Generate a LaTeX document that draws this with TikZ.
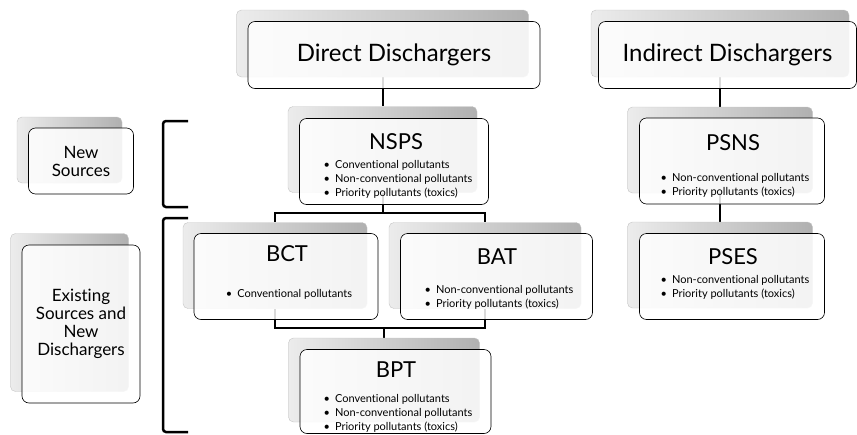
\documentclass[tikz,border=0pt]{standalone}
\usepackage{fontspec}
\setmainfont{Lato}[Ligatures=NoCommon]
\usetikzlibrary{backgrounds}
\definecolor{shadelt}{HTML}{ECECEC}
\definecolor{shadedk}{HTML}{B0B0B0}
\definecolor{rimgray}{HTML}{C4C4C4}
\newcommand{\bitem}[1]{\textbullet\hspace{5pt}#1}

\begin{document}
\begin{tikzpicture}[x=1pt, y=-1pt,
	backbox/.style={rounded corners=5pt, left color=shadelt, right color=shadedk, draw=rimgray, line width=0.4pt, inner sep=0pt},
	frontbox/.style={rounded corners=7pt, draw=black, fill=white, fill opacity=0.85, text opacity=1, line width=0.6pt, inner sep=0pt},
	head/.style={font=\fontsize{22}{26}\selectfont},
	side/.style={font=\fontsize{17}{18}\selectfont, align=center},
	items/.style={font=\fontsize{11}{14}\selectfont, align=left},
	link/.style={line width=2pt},
	brace/.style={line width=2.5pt, rounded corners=3pt}]
	\useasboundingbox (0,0) rectangle (857,434);

	% top row
	\node[backbox, minimum width=292pt, minimum height=67pt] (dd-b) at (382.5,43.5) {};
	\node[frontbox, minimum width=292pt, minimum height=67pt, font=\fontsize{24}{30}\selectfont] (dd) at (394,55) {Direct Dischargers};
	\node[backbox, minimum width=258pt, minimum height=67pt] (id-b) at (720,43.5) {};
	\node[frontbox, minimum width=258pt, minimum height=67pt, font=\fontsize{24}{30}\selectfont] (id) at (727.5,55) {Indirect Dischargers};

	% left labels
	\node[backbox, minimum width=105pt, minimum height=66pt] (ns-b) at (69.5,150) {};
	\node[frontbox, side, minimum width=105pt, minimum height=66pt] (ns) at (81,161) {New\\Sources};
	\node[backbox, minimum width=118pt, minimum height=158pt] (es-b) at (69.5,312.5) {};
	\node[frontbox, side, minimum width=118pt, minimum height=158pt] (es) at (81,324) {Existing\\Sources and\\New\\Dischargers};

	\draw[brace] (188,121) -- (163,121) -- (163,207) -- (188,207);
	\draw[brace] (188,218) -- (163,218) -- (163,432) -- (188,432);

	% direct dischargers
	\node[backbox, minimum width=189pt, minimum height=86pt] (nsps-b) at (382.5,149.5) {};
	\node[frontbox, minimum width=189pt, minimum height=86pt] (nsps) at (394,161.5) {};
	\node[head] (nsps-t) at (396,142) {NSPS};
	\node[items] (nsps-l) at (398,179) {\bitem{Conventional pollutants}\\\bitem{Non-conventional pollutants}\\\bitem{Priority pollutants (toxics)}};

	\node[backbox, minimum width=184pt, minimum height=86pt] (bct-b) at (275,265.5) {};
	\node[frontbox, minimum width=184pt, minimum height=86pt] (bct) at (286,276.5) {};
	\node[head] (bct-t) at (287,254) {BCT};
	\node[items] (bct-l) at (289,294) {\bitem{Conventional pollutants}};

	\node[backbox, minimum width=192pt, minimum height=86pt] (bat-b) at (485,265.5) {};
	\node[frontbox, minimum width=192pt, minimum height=86pt] (bat) at (496.5,276.5) {};
	\node[head] (bat-t) at (497,257) {BAT};
	\node[items] (bat-l) at (499,297.5) {\bitem{Non-conventional pollutants}\\\bitem{Priority pollutants (toxics)}};

	\node[backbox, minimum width=191pt, minimum height=84pt] (bpt-b) at (384,380) {};
	\node[frontbox, minimum width=191pt, minimum height=84pt] (bpt) at (395.5,391.5) {};
	\node[head] (bpt-t) at (396,370) {BPT};
	\node[items] (bpt-l) at (398,413.5) {\bitem{Conventional pollutants}\\\bitem{Non-conventional pollutants}\\\bitem{Priority pollutants (toxics)}};

	% indirect dischargers
	\node[backbox, minimum width=185pt, minimum height=86pt] (psns-b) at (720,150) {};
	\node[frontbox, minimum width=185pt, minimum height=86pt] (psns) at (732,161) {};
	\node[head] (psns-t) at (733,143) {PSNS};
	\node[items] (psns-l) at (735,185) {\bitem{Non-conventional pollutants}\\\bitem{Priority pollutants (toxics)}};

	\node[backbox, minimum width=185pt, minimum height=86pt] (pses-b) at (720,265) {};
	\node[frontbox, minimum width=185pt, minimum height=86pt] (pses) at (732,276.5) {};
	\node[head] (pses-t) at (733,257) {PSES};
	\node[items] (pses-l) at (735,287.5) {\bitem{Non-conventional pollutants}\\\bitem{Priority pollutants (toxics)}};

	\coordinate (split) at (382.5,213);
	\coordinate (merge) at (384,328);
	\begin{scope}[on background layer]
		\draw[link] (dd-b) -- (nsps-b);
		\draw[link] (nsps-b) -- (split) -| (bct-b);
		\draw[link] (split) -| (bat-b);
		\draw[link] (bct-b) |- (merge) -- (bpt-b);
		\draw[link] (bat-b) |- (merge);
		\draw[link] (id-b) -- (psns-b);
		\draw[link] (psns-b) -- (pses-b);
	\end{scope}
\end{tikzpicture}
\end{document}
